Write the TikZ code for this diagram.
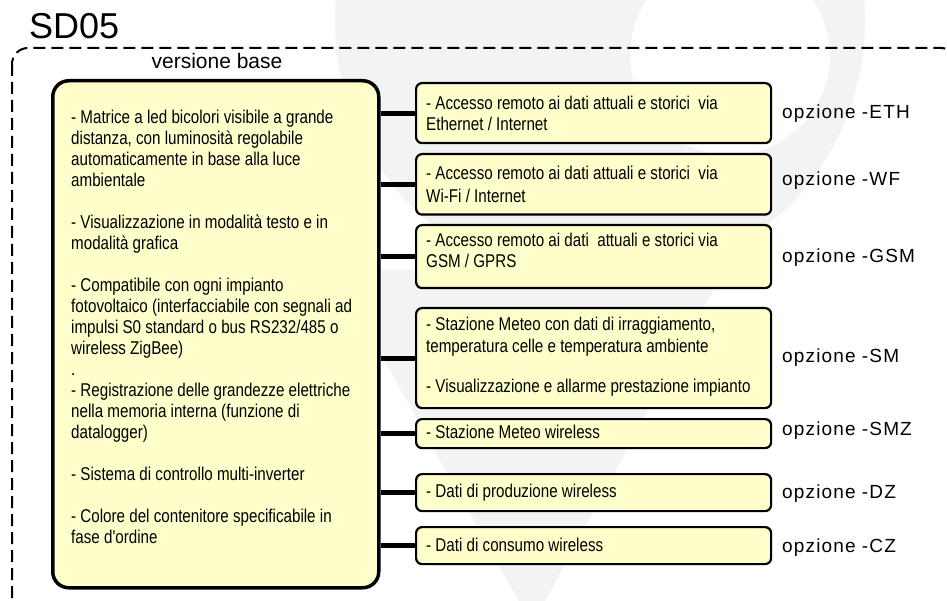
\documentclass[tikz,border=0pt]{standalone}
\usepackage{fontspec}
\setmainfont{Liberation Sans}
\newfontfamily\narrowfont[FakeStretch=0.82]{Liberation Sans}
\newfontfamily\labelfont[LetterSpace=6]{Liberation Sans}
\definecolor{boxfill}{HTML}{FFFFCC}
\definecolor{wmgray}{HTML}{F3F3F3}
\begin{document}
\begin{tikzpicture}[x=1pt,y=-1pt,
  basebox/.style={draw=black, line width=3.5pt, fill=boxfill, rounded corners=16pt,
    anchor=north west, inner sep=0pt, minimum width=326pt},
  optbox/.style={draw=black, line width=2.2pt, fill=boxfill, rounded corners=6pt,
    anchor=north west, inner sep=0pt, minimum width=355pt},
  boxtext/.style={inner sep=0pt, align=left, font=\narrowfont\fontsize{18.5}{21}\selectfont},
  optlabel/.style={anchor=base west, inner sep=0pt, font=\labelfont\fontsize{19}{22}\selectfont},
  bar/.style={line width=5pt},
  frame/.style={line width=2pt, dash pattern=on 12pt off 6pt, rounded corners=16pt},
  wm/.style={fill=wmgray}]
\useasboundingbox (0,0) rectangle (947,601);
\clip (0,0) rectangle (947,601);
% watermark
\fill[wm, even odd rule] (600,20) circle[radius=265] (730,55) circle[radius=100];
\fill[wm] (334,270) -- (724,270) -- (532,625) -- cycle;
% frame
\draw[frame] (12,48) rectangle (957,650);
% titles
\node[anchor=base west, inner sep=0pt, font=\fontsize{36}{42}\selectfont] (title) at (29,38.5) {SD05};
\node[anchor=base, inner sep=0pt, font=\fontsize{21}{25}\selectfont] (vb) at (217,68.5) {versione base};
% boxes
\node[basebox, minimum height=507pt] (base) at (51,79) {};
\node[optbox, minimum height=60pt] (eth) at (415,82) {};
\node[optbox, minimum height=60.5pt] (wf) at (415,153) {};
\node[optbox, minimum height=63pt] (gsm) at (415,224) {};
\node[optbox, minimum height=100pt] (sm) at (415,307) {};
\node[optbox, minimum height=29pt] (smz) at (415,418) {};
\node[optbox, minimum height=37pt] (dz) at (415,473) {};
\node[optbox, minimum height=37pt] (cz) at (415,526) {};
% texts
\node[boxtext, anchor=north west] (tbase) at (71,109.5) {%
- Matrice a led bicolori visibile a grande\\
distanza, con luminosità regolabile\\
automaticamente in base alla luce\\
ambientale\\[21pt]
- Visualizzazione in modalità testo e in\\
modalità grafica\\[21pt]
- Compatibile con ogni impianto\\
fotovoltaico (interfacciabile con segnali ad\\
impulsi S0 standard o bus RS232/485 o\\
wireless ZigBee)\\
.\\
- Registrazione delle grandezze elettriche\\
nella memoria interna (funzione di\\
datalogger)\\[21pt]
- Sistema di controllo multi-inverter\\[21pt]
- Colore del contenitore specificabile in\\
fase d'ordine};
\node[boxtext, anchor=west] (teth) at (426,113) {- Accesso remoto ai dati attuali e storici \ via\\Ethernet / Internet};
\node[boxtext, anchor=west] (twf) at (426,184.5) {- Accesso remoto ai dati attuali e storici \ via\\[2pt]Wi-Fi / Internet};
\node[boxtext, anchor=west] (tgsm) at (426,250) {- Accesso remoto ai dati \ attuali e storici via\\GSM / GPRS};
\node[boxtext, anchor=west] (tsm) at (426,357) {- Stazione Meteo con dati di irraggiamento,\\[1pt]temperatura celle e temperatura ambiente\\[19pt]- Visualizzazione e allarme prestazione impianto};
\node[boxtext, anchor=west] (tsmz) at (426,432) {- Stazione Meteo wireless};
\node[boxtext, anchor=west] (tdz) at (426,493) {- Dati di produzione wireless};
\node[boxtext, anchor=west] (tcz) at (426,544.5) {- Dati di consumo wireless};
% connectors
\foreach \b in {eth,wf,gsm,sm,smz,dz,cz}
  \draw[bar] (base.east |- \b.west) -- (\b.west);
% labels
\node[optlabel] (leth) at (782,119) {opzione -ETH};
\node[optlabel] (lwf) at (782,186) {opzione -WF};
\node[optlabel] (lgsm) at (782,263) {opzione -GSM};
\node[optlabel] (lsm) at (782,362) {opzione -SM};
\node[optlabel] (lsmz) at (782,435) {opzione -SMZ};
\node[optlabel] (ldz) at (782,498) {opzione -DZ};
\node[optlabel] (lcz) at (782,552) {opzione -CZ};
\end{tikzpicture}
\end{document}
